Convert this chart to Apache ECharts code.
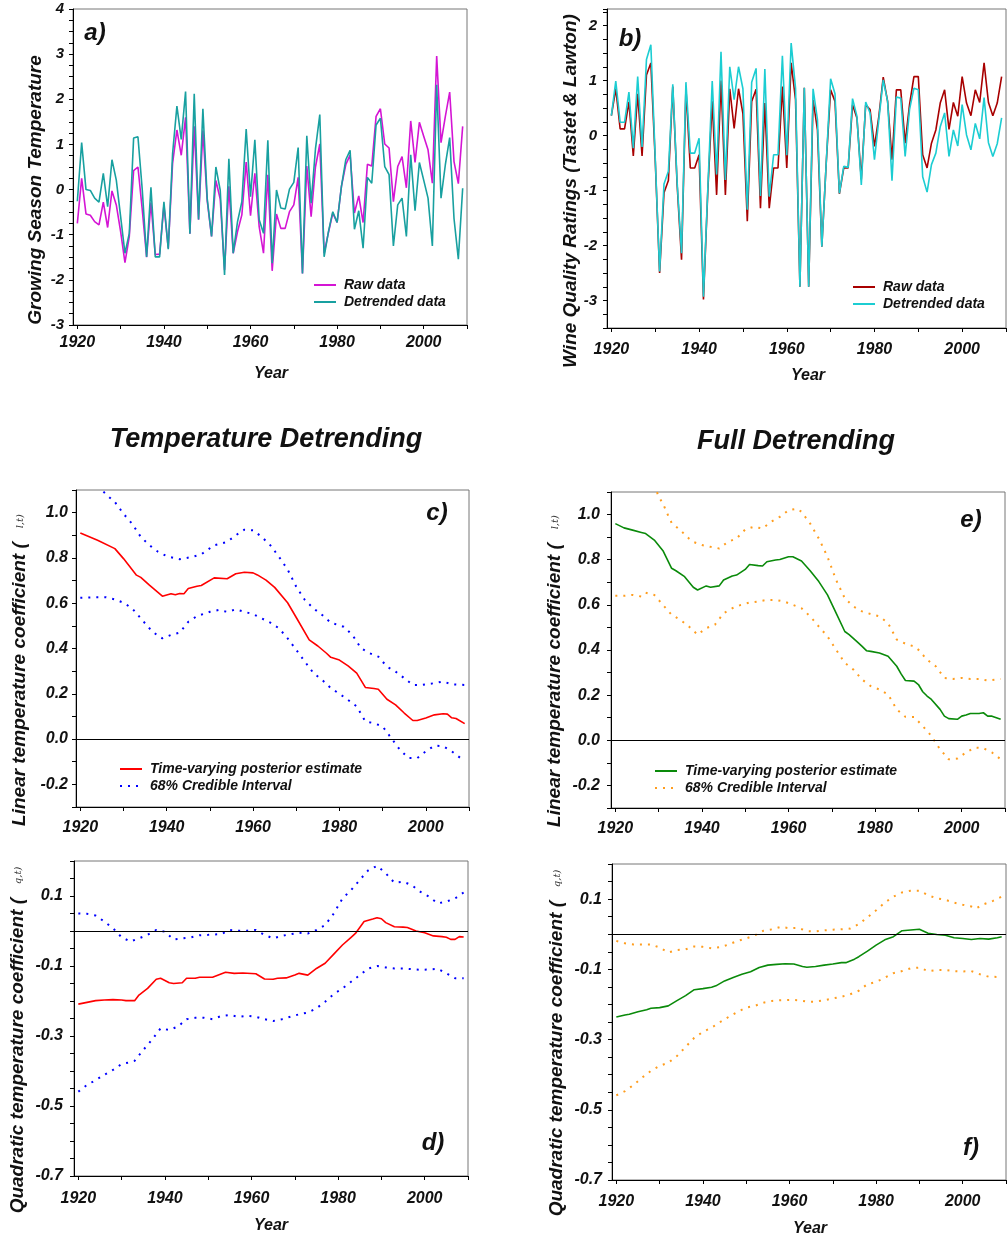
<!DOCTYPE html>
<html><head><meta charset="utf-8">
<script src="https://cdn.jsdelivr.net/npm/echarts@6/dist/echarts.min.js"></script>
<style>html,body{margin:0;padding:0;background:#fff}#c{width:1008px;height:1242px}</style>
</head><body><div id="c"></div>
<script>
// ---------- DATA ----------
const years = []; for (let y = 1920; y <= 2009; y++) years.push(y);
const xLabelYears = [1920, 1940, 1960, 1980, 2000];
const xTickYears = [1920, 1930, 1940, 1950, 1960, 1970, 1980, 1990, 2000, 2010];

// a) growing season temperature
const aRaw = [-0.75,0.25,-0.54,-0.57,-0.71,-0.78,-0.28,-0.84,-0.03,-0.34,
  -0.93,-1.62,-1.04,0.42,0.50,-0.45,-1.50,-0.29,-1.44,-1.43,
  -0.35,-1.30,0.58,1.32,0.76,1.60,-0.98,1.40,-0.67,1.31,
  -0.25,-1.04,0.20,-0.21,-1.78,0.07,-1.41,-0.93,-0.56,0.61,
  -0.58,0.36,-0.82,-1.41,0.33,-1.80,-0.54,-0.86,-0.86,-0.49,
  -0.34,0.27,-1.86,0.52,-0.60,0.50,1.01,-1.41,-0.95,-0.52,
  -0.73,0.07,0.55,0.77,-0.52,-0.14,-0.73,0.56,0.52,1.62,
  1.79,1.01,0.92,-0.27,0.51,0.73,0.04,1.52,0.60,1.49,
  1.18,0.88,0.14,2.96,1.04,1.62,2.16,0.62,0.13,1.40];
const aDet = [-0.26,1.04,0.00,-0.02,-0.19,-0.28,0.36,-0.38,0.66,0.21,
  -0.60,-1.41,-0.97,1.14,1.17,-0.01,-1.49,0.05,-1.49,-1.49,
  -0.27,-1.32,0.80,1.85,1.11,2.17,-0.98,2.12,-0.66,1.79,
  -0.20,-1.04,0.50,-0.01,-1.89,0.68,-1.41,-0.71,-0.27,1.34,
  -0.16,1.10,-0.67,-0.97,1.09,-1.63,-0.01,-0.41,-0.43,0.01,
  0.16,0.93,-1.86,1.19,-0.30,0.90,1.66,-1.49,-0.93,-0.49,
  -0.73,0.07,0.66,0.87,-0.88,-0.47,-1.30,0.27,0.14,1.43,
  1.58,0.51,0.33,-1.25,-0.34,-0.19,-1.04,0.77,-0.47,0.60,
  0.21,-0.19,-1.25,2.32,-0.19,0.55,1.15,-0.64,-1.54,0.03];

// b) wine quality ratings
const bRaw = [0.36,0.85,0.12,0.12,0.61,-0.37,0.76,-0.37,1.10,1.32,
  -0.45,-2.50,-1.04,-0.82,0.89,-0.90,-2.26,0.86,-0.59,-0.59,
  -0.35,-2.98,-1.00,0.62,-1.08,1.00,-1.08,0.85,0.13,0.85,
  0.40,-1.56,0.62,0.84,-1.32,0.59,-1.32,-0.59,-0.59,0.89,
  -0.59,1.32,0.65,-2.75,0.87,-2.75,0.65,0.10,-2.02,-0.50,
  0.83,0.62,-1.06,-0.59,-0.59,0.56,0.32,-0.80,0.56,0.47,
  -0.20,0.35,1.06,0.62,-0.44,0.83,0.83,-0.14,0.56,1.07,
  1.07,-0.35,-0.59,-0.14,0.10,0.59,0.83,0.11,0.60,0.35,
  1.07,0.59,0.36,0.83,0.60,1.32,0.60,0.36,0.59,1.07];
const bDet = [0.36,0.99,0.24,0.24,0.79,-0.23,1.07,-0.21,1.38,1.65,
  -0.40,-2.47,-0.88,-0.65,0.93,-0.85,-2.14,0.97,-0.32,-0.32,
  -0.05,-2.93,-0.95,0.99,-0.71,1.52,-0.81,1.25,0.65,1.25,
  0.85,-1.35,0.97,1.22,-1.10,1.21,-1.11,-0.35,-0.35,1.45,
  -0.36,1.68,0.86,-2.75,0.87,-2.75,0.85,0.29,-2.02,-0.50,
  1.03,0.76,-1.05,-0.56,-0.58,0.67,0.35,-0.90,0.61,0.41,
  -0.44,0.29,1.01,0.62,-0.82,0.70,0.68,-0.38,0.47,0.86,
  0.83,-0.75,-1.03,-0.53,-0.32,0.16,0.41,-0.38,0.10,-0.19,
  0.56,0.01,-0.26,0.22,-0.06,0.69,-0.13,-0.38,-0.15,0.32];

// c) linear coefficient, temperature detrending  [year, value]
const cMean = [[1920,0.91],[1924,0.878],[1928,0.841],[1930,0.797],[1933,0.724],[1934,0.714],[1936,0.68],[1939,0.631],[1941,0.642],[1942,0.637],[1943,0.643],[1944,0.642],[1945,0.665],[1947,0.675],[1948,0.678],[1951,0.712],[1954,0.708],[1956,0.73],[1958,0.737],[1960,0.734],[1961,0.725],[1963,0.702],[1965,0.67],[1968,0.602],[1970,0.537],[1973,0.438],[1975,0.411],[1977,0.379],[1978,0.361],[1980,0.349],[1982,0.323],[1984,0.291],[1986,0.228],[1988,0.223],[1989,0.22],[1991,0.176],[1993,0.151],[1995,0.115],[1997,0.082],[1998,0.082],[2000,0.093],[2002,0.107],[2004,0.112],[2005,0.11],[2006,0.094],[2007,0.091],[2009,0.068]];
const cUpper = [[1920,1.19],[1922,1.16],[1924,1.12],[1926,1.08],[1928,1.047],[1930,0.995],[1932,0.951],[1934,0.893],[1936,0.856],[1938,0.827],[1940,0.808],[1943,0.794],[1946,0.805],[1948,0.816],[1951,0.856],[1954,0.871],[1956,0.9],[1958,0.925],[1960,0.922],[1962,0.893],[1964,0.856],[1966,0.805],[1968,0.749],[1970,0.673],[1972,0.614],[1974,0.577],[1976,0.548],[1978,0.514],[1981,0.496],[1983,0.46],[1985,0.401],[1987,0.379],[1989,0.364],[1991,0.32],[1993,0.298],[1995,0.269],[1997,0.239],[1999,0.239],[2002,0.247],[2004,0.254],[2006,0.242],[2009,0.239]];
const cLower = [[1920,0.624],[1923,0.626],[1926,0.626],[1928,0.617],[1930,0.602],[1932,0.577],[1934,0.533],[1936,0.489],[1938,0.455],[1939,0.445],[1941,0.46],[1943,0.47],[1945,0.518],[1947,0.543],[1950,0.562],[1952,0.57],[1954,0.562],[1956,0.573],[1958,0.562],[1960,0.552],[1962,0.533],[1964,0.514],[1966,0.489],[1968,0.445],[1970,0.394],[1972,0.342],[1974,0.291],[1976,0.261],[1978,0.225],[1980,0.2],[1982,0.173],[1984,0.144],[1986,0.078],[1988,0.07],[1990,0.056],[1992,0.004],[1994,-0.047],[1996,-0.084],[1998,-0.084],[2000,-0.054],[2002,-0.029],[2004,-0.032],[2006,-0.054],[2009,-0.098]];

// d) quadratic coefficient, temperature detrending
const dMean = [[1920,-0.209],[1922,-0.204],[1924,-0.199],[1926,-0.197],[1928,-0.196],[1930,-0.197],[1931,-0.199],[1933,-0.199],[1934,-0.183],[1936,-0.164],[1938,-0.138],[1939,-0.135],[1941,-0.148],[1942,-0.15],[1944,-0.148],[1945,-0.135],[1947,-0.135],[1948,-0.132],[1951,-0.132],[1954,-0.118],[1956,-0.121],[1958,-0.12],[1961,-0.122],[1963,-0.137],[1965,-0.138],[1966,-0.135],[1968,-0.134],[1970,-0.126],[1971,-0.121],[1973,-0.126],[1975,-0.107],[1977,-0.092],[1979,-0.066],[1981,-0.04],[1983,-0.018],[1984,-0.007],[1986,0.027],[1988,0.034],[1989,0.038],[1990,0.035],[1991,0.024],[1993,0.012],[1995,0.011],[1996,0.01],[1998,0.0],[2000,-0.005],[2002,-0.014],[2004,-0.016],[2005,-0.018],[2006,-0.024],[2007,-0.024],[2008,-0.016],[2009,-0.017]];
const dUpper = [[1920,0.05],[1922,0.049],[1924,0.044],[1926,0.027],[1928,0.008],[1930,-0.018],[1932,-0.03],[1934,-0.021],[1936,-0.011],[1938,0.003],[1940,-0.002],[1942,-0.024],[1944,-0.021],[1946,-0.018],[1948,-0.012],[1950,-0.011],[1953,-0.009],[1955,0.003],[1957,0.001],[1959,0.001],[1961,0.003],[1963,-0.011],[1965,-0.021],[1967,-0.014],[1969,-0.009],[1971,-0.005],[1973,-0.007],[1975,0.003],[1977,0.017],[1979,0.05],[1981,0.093],[1983,0.117],[1985,0.146],[1987,0.174],[1989,0.186],[1991,0.165],[1993,0.138],[1995,0.141],[1997,0.131],[1999,0.112],[2001,0.098],[2003,0.079],[2005,0.084],[2007,0.093],[2009,0.11]];
const dLower = [[1920,-0.459],[1922,-0.44],[1924,-0.426],[1926,-0.411],[1928,-0.397],[1930,-0.38],[1932,-0.375],[1933,-0.371],[1935,-0.34],[1937,-0.311],[1939,-0.278],[1941,-0.283],[1943,-0.273],[1945,-0.252],[1947,-0.248],[1949,-0.248],[1951,-0.252],[1953,-0.243],[1955,-0.24],[1957,-0.245],[1959,-0.242],[1961,-0.245],[1963,-0.252],[1965,-0.257],[1967,-0.252],[1969,-0.245],[1971,-0.238],[1973,-0.233],[1975,-0.221],[1977,-0.202],[1979,-0.18],[1981,-0.164],[1983,-0.145],[1985,-0.126],[1987,-0.107],[1989,-0.1],[1991,-0.104],[1993,-0.107],[1995,-0.107],[1997,-0.109],[1999,-0.111],[2001,-0.11],[2003,-0.108],[2005,-0.121],[2007,-0.135],[2009,-0.135]];

// e) linear coefficient, full detrending
const eMean = [[1920,0.96],[1922,0.941],[1924,0.931],[1926,0.921],[1927,0.916],[1929,0.887],[1931,0.84],[1933,0.762],[1934,0.751],[1936,0.725],[1938,0.678],[1939,0.666],[1941,0.684],[1942,0.678],[1944,0.684],[1945,0.71],[1947,0.728],[1948,0.732],[1950,0.757],[1951,0.779],[1953,0.774],[1954,0.772],[1955,0.791],[1957,0.799],[1958,0.801],[1960,0.813],[1961,0.813],[1963,0.794],[1965,0.751],[1967,0.703],[1969,0.644],[1971,0.563],[1973,0.482],[1974,0.468],[1976,0.434],[1977,0.416],[1978,0.397],[1979,0.394],[1981,0.387],[1983,0.372],[1985,0.328],[1986,0.294],[1987,0.265],[1989,0.262],[1990,0.247],[1991,0.215],[1992,0.196],[1993,0.181],[1995,0.137],[1996,0.107],[1997,0.096],[1999,0.093],[2000,0.107],[2001,0.112],[2002,0.119],[2004,0.119],[2005,0.122],[2006,0.107],[2007,0.107],[2009,0.093]];
const eUpper = [[1920,1.40],[1924,1.30],[1927,1.20],[1929,1.13],[1930,1.08],[1931,1.049],[1932,1.004],[1933,0.963],[1935,0.931],[1937,0.894],[1938,0.879],[1940,0.865],[1942,0.857],[1944,0.85],[1946,0.879],[1948,0.894],[1950,0.934],[1952,0.946],[1954,0.938],[1956,0.968],[1958,0.99],[1960,1.019],[1962,1.026],[1963,1.012],[1965,0.96],[1967,0.894],[1969,0.813],[1971,0.71],[1973,0.629],[1975,0.593],[1977,0.571],[1979,0.559],[1981,0.549],[1983,0.519],[1985,0.446],[1987,0.428],[1989,0.416],[1990,0.401],[1992,0.357],[1994,0.328],[1996,0.276],[1998,0.272],[2000,0.276],[2002,0.272],[2004,0.272],[2006,0.265],[2009,0.272]];
const eLower = [[1920,0.64],[1922,0.64],[1924,0.644],[1926,0.637],[1927,0.654],[1929,0.644],[1931,0.6],[1933,0.556],[1935,0.534],[1937,0.504],[1939,0.468],[1941,0.497],[1943,0.512],[1945,0.563],[1947,0.585],[1949,0.6],[1951,0.61],[1953,0.615],[1955,0.622],[1957,0.622],[1959,0.615],[1961,0.6],[1963,0.585],[1965,0.549],[1967,0.504],[1969,0.46],[1971,0.401],[1973,0.343],[1975,0.313],[1977,0.269],[1979,0.24],[1981,0.225],[1983,0.203],[1985,0.137],[1987,0.104],[1989,0.103],[1991,0.063],[1993,0.019],[1995,-0.04],[1997,-0.084],[1999,-0.081],[2001,-0.054],[2003,-0.032],[2005,-0.035],[2007,-0.054],[2009,-0.084]];

// f) quadratic coefficient, full detrending
const fMean = [[1920,-0.236],[1922,-0.23],[1923,-0.228],[1925,-0.221],[1927,-0.215],[1928,-0.211],[1930,-0.209],[1932,-0.204],[1934,-0.189],[1936,-0.175],[1938,-0.158],[1940,-0.155],[1942,-0.151],[1943,-0.147],[1945,-0.133],[1947,-0.123],[1949,-0.114],[1951,-0.107],[1953,-0.095],[1955,-0.088],[1957,-0.086],[1959,-0.084],[1961,-0.085],[1963,-0.092],[1964,-0.094],[1966,-0.092],[1968,-0.088],[1970,-0.085],[1972,-0.081],[1973,-0.081],[1975,-0.071],[1976,-0.064],[1978,-0.048],[1980,-0.031],[1982,-0.016],[1984,-0.007],[1986,0.01],[1988,0.012],[1990,0.014],[1992,0.003],[1994,-0.001],[1996,-0.003],[1998,-0.01],[2000,-0.012],[2002,-0.015],[2004,-0.012],[2006,-0.014],[2008,-0.01],[2009,-0.007]];
const fUpper = [[1920,-0.019],[1922,-0.026],[1924,-0.029],[1926,-0.029],[1928,-0.029],[1930,-0.038],[1932,-0.052],[1934,-0.045],[1936,-0.043],[1938,-0.035],[1940,-0.036],[1942,-0.04],[1944,-0.037],[1946,-0.029],[1948,-0.019],[1950,-0.012],[1952,-0.003],[1954,0.01],[1956,0.014],[1958,0.021],[1960,0.017],[1962,0.018],[1964,0.009],[1966,0.008],[1968,0.011],[1970,0.013],[1972,0.014],[1974,0.016],[1976,0.029],[1978,0.048],[1980,0.068],[1982,0.09],[1984,0.107],[1986,0.119],[1988,0.124],[1990,0.124],[1992,0.111],[1994,0.102],[1996,0.098],[1998,0.09],[2000,0.084],[2002,0.079],[2003,0.073],[2005,0.086],[2007,0.095],[2009,0.107]];
const fLower = [[1920,-0.459],[1922,-0.447],[1924,-0.429],[1926,-0.408],[1928,-0.389],[1930,-0.375],[1932,-0.366],[1934,-0.347],[1936,-0.321],[1938,-0.295],[1940,-0.278],[1942,-0.266],[1944,-0.25],[1946,-0.235],[1948,-0.221],[1950,-0.209],[1952,-0.204],[1954,-0.195],[1956,-0.19],[1958,-0.188],[1960,-0.187],[1962,-0.188],[1964,-0.192],[1966,-0.192],[1968,-0.188],[1970,-0.183],[1972,-0.178],[1974,-0.171],[1976,-0.161],[1978,-0.142],[1980,-0.136],[1982,-0.124],[1984,-0.111],[1986,-0.105],[1988,-0.097],[1990,-0.095],[1992,-0.105],[1994,-0.102],[1996,-0.102],[1998,-0.105],[2000,-0.106],[2002,-0.105],[2004,-0.114],[2006,-0.121],[2009,-0.122]];

// ---------- CHART ----------
const FONT = '"Liberation Sans", Arial, sans-serif';
const zip = (xs, vs) => xs.map((x, i) => [x, vs[i]]);
const chart = echarts.init(document.getElementById('c'), null, {renderer: 'canvas'});

const grids = [
  {left: 73, top: 9, width: 394, height: 316},    // a
  {left: 607, top: 9, width: 399, height: 319},   // b
  {left: 76, top: 490, width: 393, height: 317},  // c
  {left: 611, top: 492, width: 394, height: 316}, // e
  {left: 74, top: 861, width: 394, height: 315},  // d
  {left: 612, top: 864, width: 394, height: 316}  // f
].map(g => Object.assign({show: true, borderColor: '#777', borderWidth: 1, backgroundColor: '#fff', outerBoundsMode: 'none'}, g));

const xMargins = [10, 14, 13, 13, 15, 14];
const xAxes = grids.map((g, i) => ({
  type: 'value', gridIndex: i, min: 1919, max: 2010,
  axisLine: {show: true, onZero: false, lineStyle: {color: '#000', width: 1}},
  axisTick: {show: true, customValues: xTickYears, length: 4, lineStyle: {color: '#000'}},
  axisLabel: {customValues: xLabelYears, formatter: v => String(Math.round(v)), margin: xMargins[i],
    fontFamily: FONT, fontSize: 16, fontWeight: 'bold', fontStyle: 'italic', color: '#111'},
  splitLine: {show: false}
}));

const yLabelStyle = {fontFamily: FONT, fontSize: 16, fontWeight: 'bold', fontStyle: 'italic', color: '#111'};
function yAxis(i, min, max, interval, fmt, margin) {
  return {
    type: 'value', gridIndex: i, min: min, max: max, interval: interval,
    axisLine: {show: true, onZero: false, lineStyle: {color: '#000', width: 1}},
    axisTick: {show: true, length: 4, lineStyle: {color: '#000'}},
    axisLabel: Object.assign({formatter: fmt, margin: margin}, yLabelStyle),
    splitLine: {show: false}
  };
}
const intFmt = v => { const r = Math.round(v * 1000) / 1000; return Number.isInteger(r) ? String(r) : ''; };
const linFmt = v => { const r = Math.round(v * 10); return (r % 2 === 0) ? (r / 10).toFixed(1) : ''; };
const quadFmt = v => { const r = Math.round(v * 100); return (Math.abs(r) % 20 === 10) ? (r / 100).toFixed(1) : ''; };

const yAxes = [
  yAxis(0, -3, 4, 0.25, intFmt, 9),
  yAxis(1, -3.5, 2.3, 0.25, intFmt, 10),
  yAxis(2, -0.3, 1.1, 0.1, linFmt, 8),
  yAxis(3, -0.3, 1.1, 0.1, linFmt, 11),
  yAxis(4, -0.7, 0.2, 0.05, quadFmt, 11),
  yAxis(5, -0.7, 0.2, 0.05, quadFmt, 10)
];
yAxes[0].axisLabel.fontSize = 15;
yAxes[1].axisLabel.fontSize = 15;

function line(name, idx, data, color, width, dotted, extra) {
  return Object.assign({
    type: 'line', name: name, xAxisIndex: idx, yAxisIndex: idx, data: data,
    symbol: 'none', showSymbol: false, clip: true, animation: false,
    lineStyle: {color: color, width: width, type: dotted ? [2, 6] : 'solid'},
    itemStyle: {color: color}
  }, extra || {});
}
const zeroLine = {markLine: {silent: true, symbol: 'none', animation: false, label: {show: false},
  lineStyle: {color: '#000', type: 'solid', width: 1}, data: [{yAxis: 0}]}};

const RED = '#ff0000', BLUE = '#0000ff', GREEN = '#0a8a0a', ORANGE = '#ff9d1e';
const series = [
  line('Raw data|a', 0, zip(years, aRaw), '#d415d4', 1.6, false),
  line('Detrended data|a', 0, zip(years, aDet), '#18a0a0', 1.6, false),
  line('Raw data|b', 1, zip(years, bRaw), '#a80000', 1.6, false),
  line('Detrended data|b', 1, zip(years, bDet), '#1ccdd2', 1.6, false),
  line('Time-varying posterior estimate|c', 2, cMean, RED, 1.6, false, zeroLine),
  line('68% Credible Interval|c', 2, cUpper, BLUE, 2, true),
  line('68% Credible Interval|c', 2, cLower, BLUE, 2, true),
  line('Time-varying posterior estimate|e', 3, eMean, GREEN, 1.6, false, zeroLine),
  line('68% Credible Interval|e', 3, eUpper, ORANGE, 2, true),
  line('68% Credible Interval|e', 3, eLower, ORANGE, 2, true),
  line('Time-varying posterior estimate|d', 4, dMean, RED, 1.6, false, zeroLine),
  line('68% Credible Interval|d', 4, dUpper, BLUE, 2, true),
  line('68% Credible Interval|d', 4, dLower, BLUE, 2, true),
  line('Time-varying posterior estimate|f', 5, fMean, GREEN, 1.6, false, zeroLine),
  line('68% Credible Interval|f', 5, fUpper, ORANGE, 2, true),
  line('68% Credible Interval|f', 5, fLower, ORANGE, 2, true)
];

function legend(names, left, top) {
  return {
    data: names, left: left, top: top, orient: 'vertical', padding: 0,
    itemWidth: 22, itemHeight: 14, itemGap: 3,
    itemStyle: {opacity: 0}, selectedMode: false, formatter: n => n.split('|')[0],
    textStyle: {fontFamily: FONT, fontSize: 14, fontWeight: 'bold', fontStyle: 'italic', color: '#111', padding: [0, 0, 0, 3]}
  };
}
const legends = [
  legend(['Raw data|a', 'Detrended data|a'], 313, 278),
  legend(['Raw data|b', 'Detrended data|b'], 852, 280),
  legend(['Time-varying posterior estimate|c', '68% Credible Interval|c'], 119, 762),
  legend(['Time-varying posterior estimate|e', '68% Credible Interval|e'], 654, 764)
];

function txt(str, x, y, size, opts) {
  return Object.assign({type: 'text', x: x, y: y, silent: true, z: 100,
    style: {text: str, fontFamily: FONT, fontSize: size, fontWeight: 'bold', fontStyle: 'italic',
      fill: '#111', align: 'center', verticalAlign: 'middle'}}, opts || {});
}
function rotName(main, sub, x, y) {
  return {type: 'text', x: x, y: y, rotation: Math.PI / 2, silent: true, z: 100,
    style: {text: '{m|' + main + '}{g|     }{s|' + sub + '}', align: 'center', verticalAlign: 'middle',
      rich: {
        m: {fontFamily: FONT, fontSize: 19, fontWeight: 'bold', fontStyle: 'italic', fill: '#111'},
        g: {fontFamily: FONT, fontSize: 10},
        s: {fontFamily: '"DejaVu Serif", serif', fontSize: 10, fontStyle: 'italic', fill: '#333'}
      }}};
}
function plainRot(str, x, y) {
  return {type: 'text', x: x, y: y, rotation: Math.PI / 2, silent: true, z: 100,
    style: {text: str, fontFamily: FONT, fontSize: 19, fontWeight: 'bold', fontStyle: 'italic', fill: '#111',
      align: 'center', verticalAlign: 'middle'}};
}

const graphics = [
  txt('a)', 95, 33, 24),
  txt('b)', 630, 39, 24),
  txt('c)', 437, 513, 24),
  txt('e)', 971, 520, 24),
  txt('d)', 433, 1143, 24),
  txt('f)', 971, 1148, 24),
  txt('Temperature Detrending', 266, 440, 27),
  txt('Full Detrending', 796, 442, 27),
  txt('Year', 271, 374, 16),
  txt('Year', 808, 376, 16),
  txt('Year', 271, 1226, 16),
  txt('Year', 810, 1229, 16),
  plainRot('Growing Season Temperature', 36, 190),
  plainRot('Wine Quality Ratings (Tastet & Lawton)', 571, 191),
  rotName('Linear temperature coefficient (', 'l,t)', 20, 670),
  rotName('Linear temperature coefficient (', 'l,t)', 555, 671),
  rotName('Quadratic temperature coefficient (', 'q,t)', 18, 1040),
  rotName('Quadratic temperature coefficient (', 'q,t)', 557, 1043)
];

chart.setOption({
  animation: false,
  backgroundColor: '#fff',
  grid: grids,
  xAxis: xAxes,
  yAxis: yAxes,
  legend: legends,
  series: series,
  graphic: graphics
});
</script>
</body></html>
